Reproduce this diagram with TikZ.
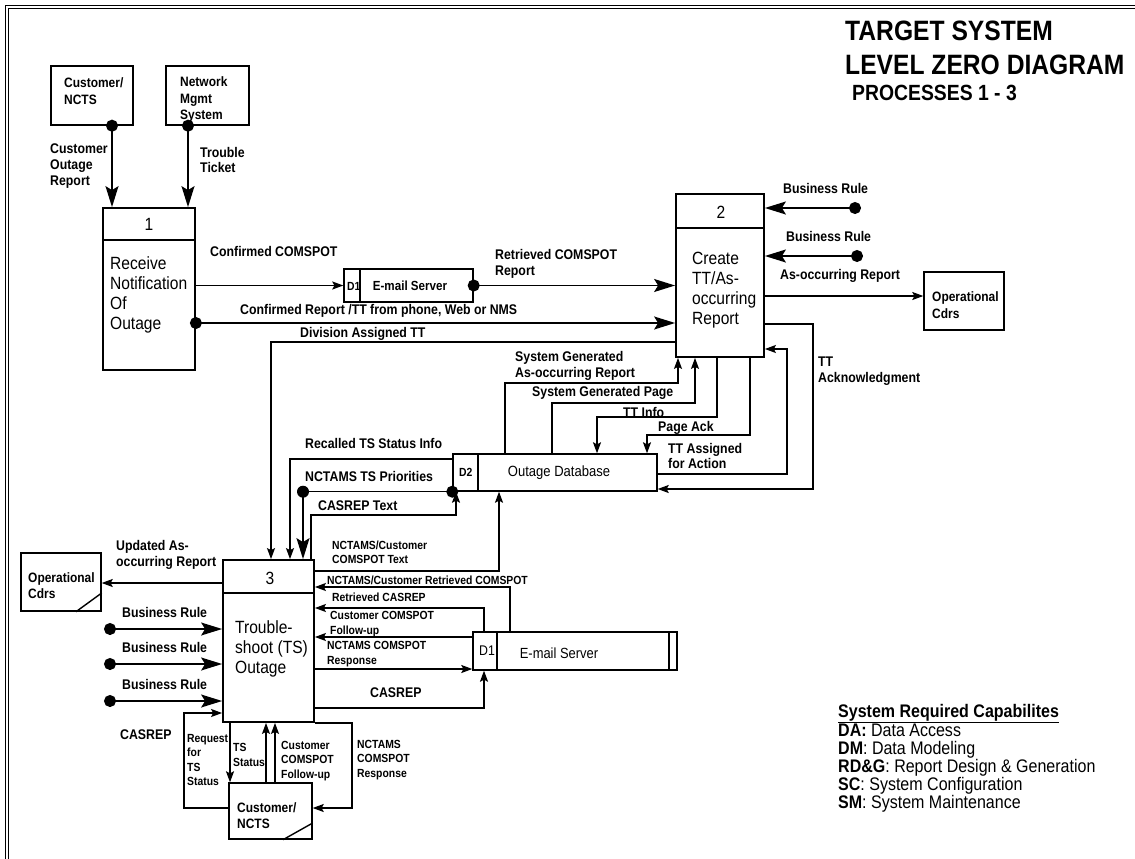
\documentclass[tikz,border=0pt]{standalone}
\usepackage{fontspec}
\setmainfont{Liberation Sans}[FakeStretch=0.88]
\usetikzlibrary{arrows.meta,calc}

\tikzset{
	every node/.style={inner sep=0pt},
	line/.style={line width=1.4pt},
	proc/.style={draw, line width=1.8pt},
	ext/.style={draw, line width=1.4pt},
	store/.style={draw, line width=1.4pt},
	flow/.style={line, -{Stealth[length=11pt,width=8pt,inset=2pt]}},
	bigflow/.style={line, -{Stealth[length=21pt,width=13pt,inset=4pt]}},
	dotbig/.style={line, {Circle[length=12pt]}-{Stealth[length=21pt,width=13pt,inset=4pt]}, shorten <=-6pt},
	dot/.style={circle, fill, minimum size=12pt},
	lbl/.style={font=\bfseries\fontsize{14}{15.7}\selectfont, align=left, anchor=west},
	slbl/.style={font=\bfseries\fontsize{11.8}{14.3}\selectfont, align=left, anchor=west},
	boxtxt/.style={font=\bfseries\fontsize{13.6}{16.3}\selectfont, align=left, anchor=west},
	proctxt/.style={font=\fontsize{17.7}{20}\selectfont, align=left, anchor=west},
	num/.style={font=\fontsize{17.7}{20}\selectfont},
	title/.style={font=\bfseries\fontsize{28}{30}\selectfont, anchor=west},
	subtitle/.style={font=\bfseries\fontsize{22}{24}\selectfont, anchor=west},
	legend/.style={font=\fontsize{18.2}{18}\selectfont, align=left, anchor=west}
}

\begin{document}
\begin{tikzpicture}[x=1pt, y=-1pt]
	\useasboundingbox (0,0) rectangle (1135,859);

	% frame
	\draw[double, double distance=1.6pt, line width=1.2pt] (1135,7) -- (7,7) -- (7,859);

	% title
	\node[title] (t1) at (845,31) {TARGET SYSTEM};
	\node[title] (t2) at (845,65) {LEVEL ZERO DIAGRAM};
	\node[subtitle] (t3) at (852,93) {PROCESSES 1 - 3};

	% external entities
	\node[ext, minimum width=82, minimum height=59] (cust1) at (92,95.5) {};
	\node[boxtxt] (cust1t) at (64,91) {Customer/\\NCTS};
	\node[ext, minimum width=83, minimum height=59] (nms) at (207.5,95.5) {};
	\node[boxtxt] (nmst) at (180,99.5) {Network\\Mgmt\\System};

	\node[ext, minimum width=80, minimum height=58] (ops2) at (964,301) {};
	\node[boxtxt] (ops2t) at (932,305) {Operational\\Cdrs};

	\node[ext, minimum width=80, minimum height=58] (ops3) at (61,582) {};
	\node[boxtxt] (ops3t) at (28,585.5) {Operational\\Cdrs};
	\draw[line] (ops3.south east |- 0,593) -- (ops3.south -| 76,0);

	\node[ext, minimum width=83, minimum height=56] (cust3) at (270.5,811) {};
	\node[boxtxt] (cust3t) at (237,815.5) {Customer/\\NCTS};
	\draw[line] (cust3.south east |- 0,823) -- (cust3.south -| 283,0);

	% processes
	\node[proc, minimum width=92, minimum height=162] (p1) at (149,289) {};
	\draw[proc] (p1.west |- 0,240) -- (p1.east |- 0,240);
	\node[num] (p1n) at (149,224) {1};
	\node[proctxt] (p1t) at (110,295) {Receive\\Notification\\Of\\Outage};

	\node[proc, minimum width=88, minimum height=163] (p2) at (720,275.5) {};
	\draw[proc] (p2.west |- 0,228) -- (p2.east |- 0,228);
	\node[num] (p2n) at (721,212) {2};
	\node[proctxt] (p2t) at (692,290) {Create\\TT/As-\\occurring\\Report};

	\node[proc, minimum width=91, minimum height=162] (p3) at (268.5,641) {};
	\draw[proc] (p3.west |- 0,593) -- (p3.east |- 0,593);
	\node[num] (p3n) at (270,578) {3};
	\node[proctxt] (p3t) at (235,649) {Trouble-\\shoot (TS)\\Outage};

	% data stores
	\node[store, minimum width=129, minimum height=33] (d1a) at (408.5,285.5) {};
	\draw[line] (d1a.north -| 360,0) -- (d1a.south -| 360,0);
	\node[slbl] (d1al) at (347,286) {D1};
	\node[font=\bfseries\fontsize{13.2}{15}\selectfont] (d1an) at (410,286) {E-mail Server};

	\node[store, minimum width=204, minimum height=37] (db) at (555,472.5) {};
	\draw[line] (db.north -| 478,0) -- (db.south -| 478,0);
	\node[slbl] (dbl) at (459,472) {D2};
	\node[font=\fontsize{14.8}{17}\selectfont] (dbn) at (559,473) {Outage Database};

	\node[store, minimum width=204, minimum height=38] (d1b) at (575,651) {};
	\draw[line] (d1b.north -| 497,0) -- (d1b.south -| 497,0);
	\draw[line] (d1b.north -| 669,0) -- (d1b.south -| 669,0);
	\node[font=\fontsize{14}{16}\selectfont, anchor=west] (d1bl) at (479,651) {D1};
	\node[font=\fontsize{14.7}{17}\selectfont] (d1bn) at (559,653) {E-mail Server};

	% free ends
	\coordinate (br1) at (855,208);
	\coordinate (br2) at (857,256);
	\coordinate (br3) at (110,629);
	\coordinate (br4) at (110,664);
	\coordinate (br5) at (110,701);

	% process 1 flows
	\draw[dotbig] (cust1.south -| 112,0) -- (p1.north -| 112,0);
	\draw[dotbig] (nms.south -| 188,0) -- (p1.north -| 188,0);
	\draw[flow] (p1.east |- d1a.west) -- (d1a.west);
	\draw[dotbig] (d1a.east) -- (p2.west |- d1a.east);
	\draw[dotbig] (p1.east |- 0,323) -- (p2.west |- 0,323);
	\draw[flow] (p2.west |- 0,342) -| (p3.north -| 271,0);

	\node[lbl] (l1) at (50,166) {Customer\\Outage\\Report};
	\node[lbl] (l2) at (200,160) {Trouble\\Ticket};
	\node[lbl] (l3) at (210,251) {Confirmed COMSPOT};
	\node[lbl] (l4) at (495,264) {Retrieved COMSPOT\\Report};
	\node[lbl] (l5) at (240,311) {Confirmed Report /TT from phone, Web or NMS};
	\node[lbl] (l6) at (300,334) {Division Assigned TT};

	% process 2 flows
	\draw[dotbig] (br1) -- (p2.east |- br1);
	\draw[dotbig] (br2) -- (p2.east |- br2);
	\draw[flow] (p2.east |- 0,296) -- (ops2.west |- 0,296);
	\draw[flow] (p2.east |- 0,324) -| (813,489) -- (db.east |- 0,489);
	\draw[flow] (db.east |- 0,474) -| (787,349) -- (p2.east |- 0,349);
	\draw[flow] (p2.south -| 750,0) |- (647,435) -- (db.north -| 647,0);
	\draw[flow] (p2.south -| 717,0) |- (597,417) -- (db.north -| 597,0);
	\draw[flow] (db.north -| 552,0) |- (695,403) -- (p2.south -| 695,0);
	\draw[flow] (db.north -| 505,0) |- (678,383) -- (p2.south -| 678,0);

	\node[lbl] (l7) at (783,188) {Business Rule};
	\node[lbl] (l8) at (786,236) {Business Rule};
	\node[lbl] (l9) at (780,276) {As-occurring Report};
	\node[lbl] (l10) at (818,371) {TT\\Acknowledgment};
	\node[lbl] (l11) at (668,456) {TT Assigned\\for Action};
	\node[lbl] (l12) at (658,428) {Page Ack};
	\node[lbl] (l13) at (623,412) {TT Info};
	\node[lbl] (l14) at (532,393) {System Generated Page};
	\node[lbl] (l15) at (515,366) {System Generated\\As-occurring Report};

	% outage database and process 3
	\draw[flow] (db.west |- 0,459) -| (p3.north -| 290,0);
	\node[dot] (tsp) at (db.south west -| 303,0) {};
	\draw[dotbig] (db.south west) -| (p3.north -| 303,0);
	\draw[flow] (p3.north -| 311,0) |- (456,515) -- (db.south -| 456,0);
	\draw[flow] (p3.east |- 0,571) -| (db.south -| 499,0);

	\node[lbl] (l16) at (305,443) {Recalled TS Status Info};
	\node[lbl] (l17) at (305,476) {NCTAMS TS Priorities};
	\node[lbl] (l18) at (318,506) {CASREP Text};
	\node[slbl] (l19) at (332,552) {NCTAMS/Customer\\COMSPOT Text};

	% e-mail server and process 3
	\draw[flow] (d1b.north -| 510,0) |- (p3.east |- 0,587);
	\draw[flow] (d1b.north -| 484,0) |- (p3.east |- 0,608);
	\draw[flow] (d1b.west |- 0,637) -- (p3.east |- 0,637);
	\draw[flow] (p3.east |- 0,669) -- (d1b.west |- 0,669);
	\draw[flow] (p3.east |- 0,708) -| (d1b.south -| 484,0);

	\node[slbl] (l20) at (327,580) {NCTAMS/Customer Retrieved COMSPOT};
	\node[slbl] (l21) at (332,597) {Retrieved CASREP};
	\node[slbl] (l22) at (330,624) {Customer COMSPOT\\Follow-up};
	\node[slbl] (l23) at (327,654) {NCTAMS COMSPOT\\Response};
	\node[lbl] (l24) at (370,693) {CASREP};

	% left side of process 3
	\draw[flow] (p3.west |- 0,583) -- (ops3.east |- 0,583);
	\draw[dotbig] (br3) -- (p3.west |- br3);
	\draw[dotbig] (br4) -- (p3.west |- br4);
	\draw[dotbig] (br5) -- (p3.west |- br5);
	\draw[flow] (cust3.west |- 0,808) -| (184,713) -- (p3.west |- 0,713);

	\node[lbl] (l25) at (116,555) {Updated As-\\occurring Report};
	\node[lbl] (l26) at (122,612) {Business Rule};
	\node[lbl] (l27) at (122,647) {Business Rule};
	\node[lbl] (l28) at (122,684) {Business Rule};
	\node[lbl] (l29) at (120,735) {CASREP};
	\node[slbl] (l30) at (187,760) {Request\\for\\TS\\Status};

	% customer below process 3
	\draw[flow] (p3.south -| 230,0) -- (cust3.north -| 230,0);
	\draw[flow] (cust3.north -| 266,0) -- (p3.south -| 266,0);
	\draw[flow] (cust3.north -| 275,0) -- (p3.south -| 275,0);
	\draw[flow] (p3.south east) -| (352,808) -- (cust3.east |- 0,808);

	\node[slbl] (l31) at (233,755) {TS\\Status};
	\node[slbl] (l32) at (281,761) {Customer\\COMSPOT\\Follow-up};
	\node[slbl] (l33) at (357,760) {NCTAMS\\COMSPOT\\Response};

	% capabilities
	\node[legend] (leg) at (838,758) {\textbf{\underline{System Required Capabilites}}\\
		\textbf{DA:} Data Access\\
		\textbf{DM}: Data Modeling\\
		\textbf{RD\&G}: Report Design \& Generation\\
		\textbf{SC}: System Configuration\\
		\textbf{SM}: System Maintenance};
\end{tikzpicture}
\end{document}
